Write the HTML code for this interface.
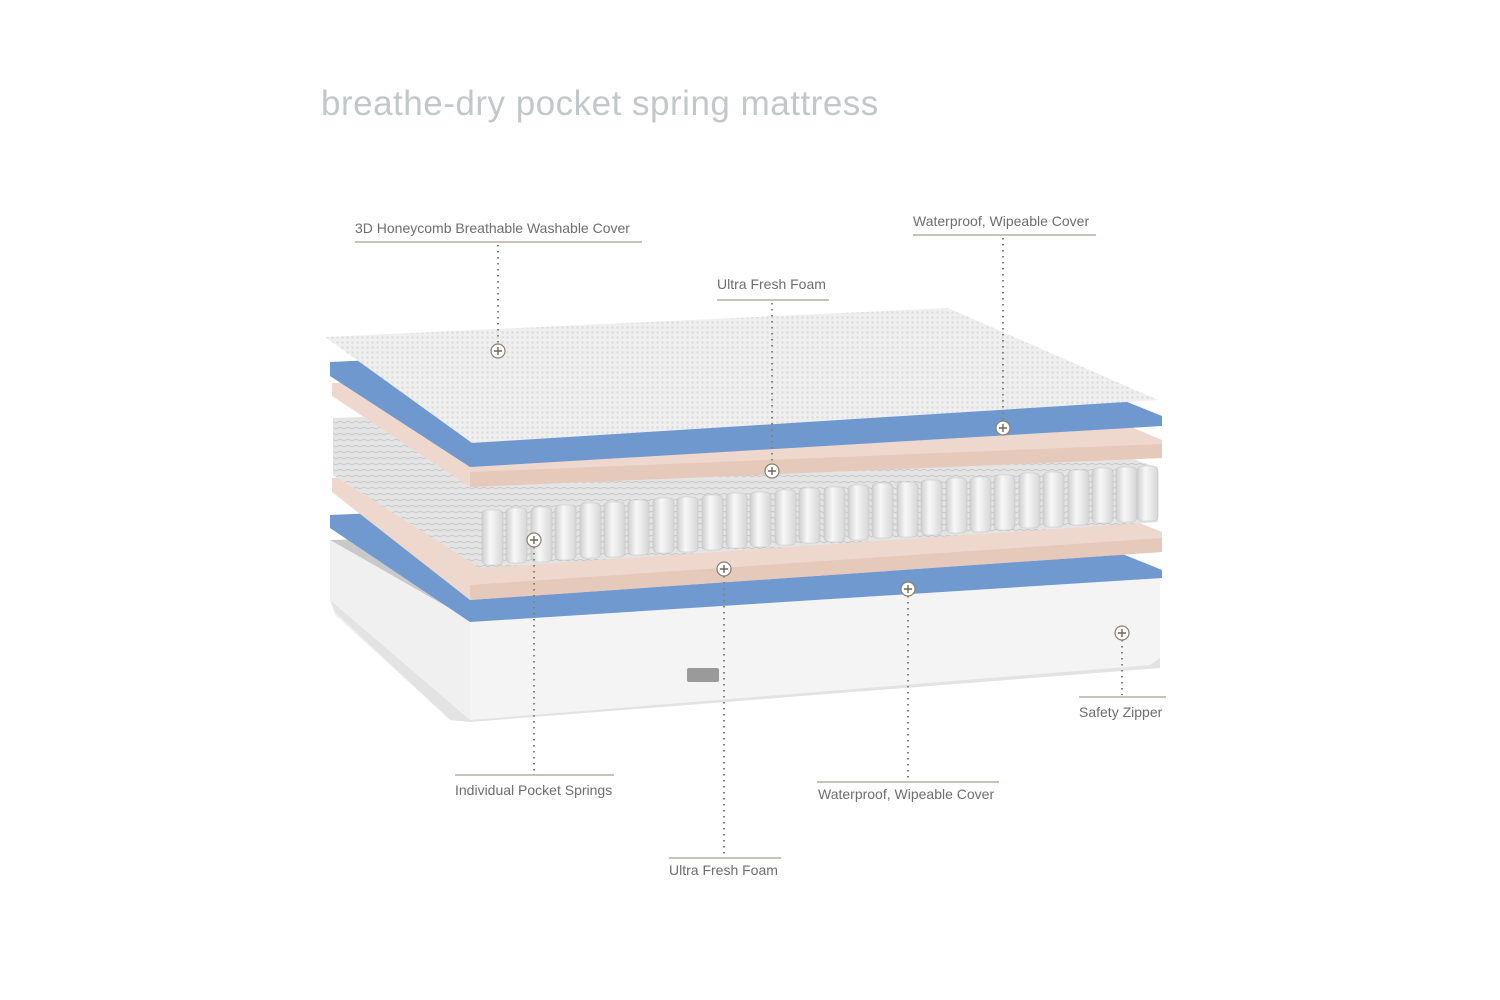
<!DOCTYPE html>
<html><head><meta charset="utf-8"><style>
html,body{margin:0;padding:0;background:#fff;}
svg{display:block}
text{font-family:"Liberation Sans",sans-serif;}
</style></head><body>
<svg width="1500" height="1000" viewBox="0 0 1500 1000" xmlns="http://www.w3.org/2000/svg">
<defs>
<pattern id="dots" width="5" height="5" patternUnits="userSpaceOnUse">
<rect width="5" height="5" fill="#efefef"/><circle cx="2.5" cy="2.5" r="1.2" fill="#dcdcdc"/>
</pattern>
<pattern id="coil" width="8" height="6" patternUnits="userSpaceOnUse">
<rect width="8" height="6" fill="#e4e4e4"/><path d="M0 3 Q4 0 8 3" stroke="#c8c8c8" fill="none" stroke-width="1"/>
</pattern>
<linearGradient id="spr" x1="0" x2="1"><stop offset="0" stop-color="#cfcfcf"/><stop offset="0.4" stop-color="#f7f7f7"/><stop offset="1" stop-color="#d6d6d6"/></linearGradient>
<g id="sp"><rect x="0" y="0" width="21" height="55" rx="5" fill="url(#spr)" stroke="#c4c4c4" stroke-width="0.6"/></g>
</defs>
<text x="321" y="115" font-size="35" fill="#c2c8c9" letter-spacing="0.5">breathe-dry pocket spring mattress</text>

<!-- base -->
<polygon points="330,540 470,620 1160,578 1020,520" fill="#c9c9c9"/>
<polygon points="1020,580 1160,578 1160,600 1050,600" fill="#9e9e9e" opacity="0.5"/>
<polygon points="330,600 330,540 470,620 470,720 445,715 335,615" fill="#f0f0f0"/>
<polygon points="470,620 1160,578 1160,660 1150,665 470,720" fill="#f4f4f4"/>
<polygon points="330,600 470,720 1150,665 1160,658 1160,668 470,722 450,720 335,612" fill="#e3e3e3"/>
<rect x="687" y="668" width="32" height="14" rx="2" fill="#9a9a9a"/>

<!-- blue 2 -->
<polygon points="330,515 960,488 1162,570 1162,578 470,622 330,528" fill="#7099cf"/>
<!-- peach 2 -->
<polygon points="332,478 960,452 1162,532 1162,552 470,600 332,492" fill="#eed8cd"/>
<polygon points="470,585 1162,538 1162,552 470,600" fill="#e5c9bb"/>
<!-- springs block -->
<polygon points="333,418 960,395 1158,468 1158,522 480,568 333,475" fill="url(#coil)"/>
<g>
<use href="#sp" x="482" y="510"/><use href="#sp" x="506" y="508"/><use href="#sp" x="531" y="507"/><use href="#sp" x="555" y="505"/>
<use href="#sp" x="580" y="503"/><use href="#sp" x="604" y="502"/><use href="#sp" x="628" y="500"/><use href="#sp" x="653" y="498"/>
<use href="#sp" x="677" y="497"/><use href="#sp" x="702" y="495"/><use href="#sp" x="726" y="493"/><use href="#sp" x="750" y="492"/>
<use href="#sp" x="775" y="490"/><use href="#sp" x="799" y="488"/><use href="#sp" x="824" y="487"/><use href="#sp" x="848" y="485"/>
<use href="#sp" x="872" y="483"/><use href="#sp" x="897" y="482"/><use href="#sp" x="921" y="480"/><use href="#sp" x="946" y="478"/>
<use href="#sp" x="970" y="477"/><use href="#sp" x="994" y="475"/><use href="#sp" x="1019" y="473"/><use href="#sp" x="1043" y="472"/>
<use href="#sp" x="1068" y="470"/><use href="#sp" x="1092" y="468"/><use href="#sp" x="1116" y="467"/><use href="#sp" x="1137" y="466"/>
</g>
<!-- peach 1 -->
<polygon points="332,383 960,355 1162,440 1162,458 470,487 332,396" fill="#eed8cd"/>
<polygon points="470,472 1162,444 1162,458 470,487" fill="#e5c9bb"/>
<!-- blue 1 -->
<polygon points="330,362 955,333 1162,416 1162,426 470,467 330,376" fill="#6f98cf"/>
<!-- cover -->
<polygon points="325,337 948,308 1158,400 472,443" fill="url(#dots)"/>

<g stroke="#a89f8c" stroke-width="1.3" fill="none">
<line x1="355" y1="242" x2="642" y2="242"/>
<line x1="913" y1="235" x2="1096" y2="235"/>
<line x1="717" y1="300" x2="829" y2="300"/>
<line x1="455" y1="775" x2="614" y2="775"/>
<line x1="669" y1="858" x2="781" y2="858"/>
<line x1="817" y1="782" x2="999" y2="782"/>
<line x1="1079" y1="697" x2="1166" y2="697"/>
</g>
<g stroke="#8a8170" stroke-width="2" stroke-dasharray="1.5,4.5" fill="none">
<line x1="498" y1="245" x2="498" y2="344"/>
<line x1="1003" y1="238" x2="1003" y2="421"/>
<line x1="772" y1="303" x2="772" y2="464"/>
<line x1="534" y1="547" x2="534" y2="773"/>
<line x1="724" y1="576" x2="724" y2="856"/>
<line x1="908" y1="596" x2="908" y2="780"/>
<line x1="1122" y1="640" x2="1122" y2="695"/>
</g>
<g fill="#fff" stroke="#8a8170" stroke-width="1.2">
<circle cx="498" cy="351" r="7"/><circle cx="1003" cy="428" r="7"/><circle cx="772" cy="471" r="7"/>
<circle cx="534" cy="540" r="7"/><circle cx="724" cy="569" r="7"/><circle cx="908" cy="589" r="7"/><circle cx="1122" cy="633" r="7"/>
</g>
<g stroke="#6e6658" stroke-width="1.4">
<path d="M494 351h8M498 347v8M999 428h8M1003 424v8M768 471h8M772 467v8M530 540h8M534 536v8M720 569h8M724 565v8M904 589h8M908 585v8M1118 633h8M1122 629v8"/>
</g>

<g font-size="14" fill="#6e6e6e">
<text x="355" y="233">3D Honeycomb Breathable Washable Cover</text>
<text x="913" y="226">Waterproof, Wipeable Cover</text>
<text x="717" y="289">Ultra Fresh Foam</text>
<text x="455" y="795">Individual Pocket Springs</text>
<text x="669" y="875">Ultra Fresh Foam</text>
<text x="818" y="799">Waterproof, Wipeable Cover</text>
<text x="1079" y="717">Safety Zipper</text>
</g>
</svg>
</body></html>
